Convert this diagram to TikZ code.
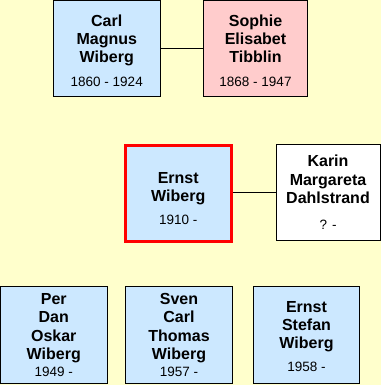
\documentclass[tikz,border=0pt]{standalone}
\usepackage{fontspec}
\setmainfont{Liberation Sans}
\definecolor{bgyellow}{HTML}{FFFFCC}
\definecolor{pblue}{HTML}{CCE8FF}
\definecolor{ppink}{HTML}{FFCCCC}
\newcommand{\yr}[1]{{\mdseries\fontsize{13.5}{18}\selectfont #1}}
\begin{document}
\begin{tikzpicture}[x=1pt,y=-1pt,
  person/.style={draw=black, line width=1pt, rectangle, fill=pblue,
    minimum width=106.5pt, minimum height=96.5pt, inner sep=0pt,
    text depth=0pt, align=center, font=\fontsize{16}{18.3}\selectfont\bfseries},
  female/.style={person, fill=ppink, minimum width=104pt},
  spouse/.style={person, fill=white, minimum width=104pt},
  focus/.style={person, draw=red, line width=3pt, minimum width=105.5pt, minimum height=96pt},
  link/.style={draw=black, line width=1pt}]
\fill[bgyellow] (0,0) rectangle (381,385);
\useasboundingbox (0,0) rectangle (381,385);
\node[person] (carl) at (106.75,48.75) {\rule{0pt}{15pt}Carl\\Magnus\\Wiberg\\[5pt]\yr{1860 - 1924}};
\node[female] (sophie) at (255.5,48.75) {\rule{0pt}{15pt}Sophie\\Elisabet\\Tibblin\\[5.5pt]\yr{1868 - 1947}};
\node[focus] (ernst) at (178.25,193.5) {\rule{0pt}{20.5pt}Ernst\\Wiberg\\[4.5pt]\yr{1910 -}};
\node[spouse] (karin) at (328,192.5) {Karin\\Margareta\\Dahlstrand\\[7.7pt]\yr{? -}};
\node[person] (per) at (53.75,335) {Per\\Dan\\Oskar\\Wiberg\\[-1.3pt]\yr{1949 -}};
\node[person] (sven) at (179,335) {Sven\\Carl\\Thomas\\Wiberg\\[-1.3pt]\yr{1957 -}};
\node[person] (stefan) at (306.5,335) {\rule{0pt}{14pt}Ernst\\Stefan\\Wiberg\\[5pt]\yr{1958 -}};
\draw[link] (carl.east) -- (sophie.west);
\draw[link] (karin.west) -- (karin.west -| ernst.east);
\end{tikzpicture}
\end{document}
